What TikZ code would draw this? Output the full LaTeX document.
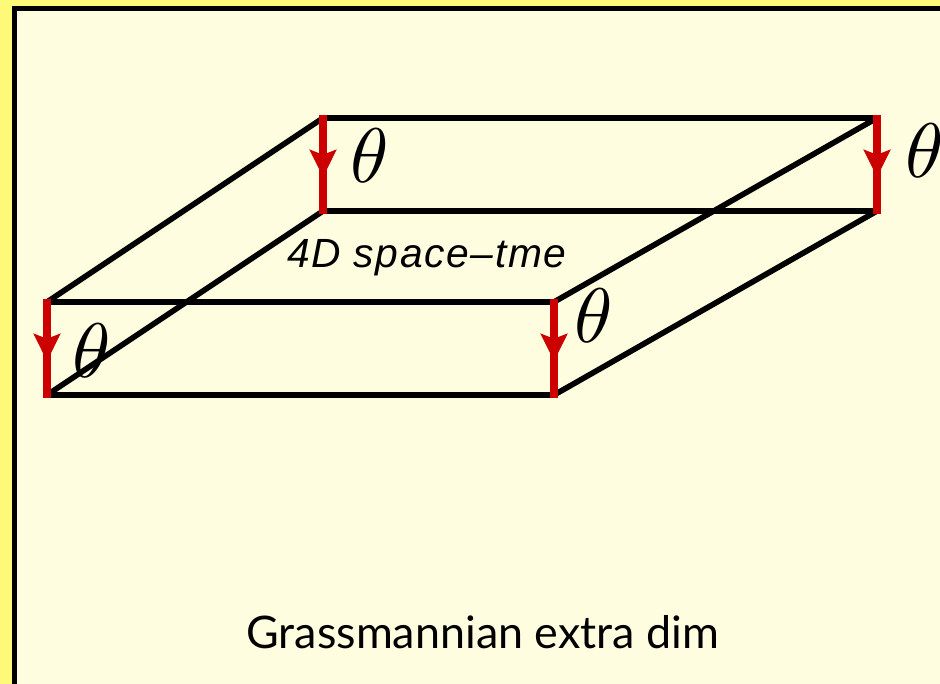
\documentclass[tikz,border=0pt]{standalone}
\usepackage{fontspec}
\setsansfont{Lato}
\newfontfamily\labelfont[LetterSpace=4]{Liberation Sans}
\usetikzlibrary{arrows.meta,decorations.markings}
\definecolor{outeryellow}{HTML}{FFF97A}
\definecolor{innercream}{HTML}{FFFDE0}
\definecolor{thetared}{HTML}{CC0000}
\begin{document}
\begin{tikzpicture}[x=1cm,y=1cm]
    \tikzset{
        edge/.style={draw=black,line width=4pt,line cap=butt},
        fibre/.style={
            draw=thetared,line width=6.2pt,
            postaction={decorate},
            decoration={markings,mark=at position 0.63 with
                {\arrow[thetared]{Stealth[length=0.68cm,width=0.66cm,inset=0.12cm]}}}
        },
        thetalabel/.style={scale=5.5,inner sep=0pt}
    }

    \useasboundingbox (0,0) rectangle (23.5,17.1);
    \fill[outeryellow] (0,0) rectangle (23.5,17.1);
    \node[draw=black,fill=innercream,line width=3.6pt,anchor=south west,outer sep=0pt,
        minimum width=24cm,minimum height=17.49cm,inner sep=0pt] (frame) at (0.3625,-0.6) {};

    \coordinate (back-top-l) at (8.075,14.15);
    \coordinate (back-top-r) at (21.925,14.15);
    \coordinate (back-bot-l) at (8.075,11.825);
    \coordinate (back-bot-r) at (21.925,11.825);
    \coordinate (front-top-l) at (1.175,9.55);
    \coordinate (front-top-r) at (13.85,9.55);
    \coordinate (front-bot-l) at (1.175,7.225);
    \coordinate (front-bot-r) at (13.85,7.225);

    \draw[edge] (front-top-l) -- (back-top-l) -- (back-top-r);
    \draw[edge] (front-top-l) -- (front-top-r) -- (back-top-r);
    \draw[edge] (front-bot-l) -- (back-bot-l) -- (back-bot-r);
    \draw[edge] (front-bot-l) -- (front-bot-r) -- (back-bot-r);

    \draw[fibre] ([yshift=0.08cm]back-top-l) -- ([yshift=-0.07cm]back-bot-l);
    \draw[fibre] ([yshift=0.08cm]back-top-r) -- ([yshift=-0.07cm]back-bot-r);
    \draw[fibre] ([yshift=0.08cm]front-top-l) -- ([yshift=-0.07cm]front-bot-l);
    \draw[fibre] ([yshift=0.08cm]front-top-r) -- ([yshift=-0.07cm]front-bot-r);

    \node[thetalabel] (theta-a) at (9.25,13.22) {$\theta$};
    \node[thetalabel] (theta-b) at (23.12,13.34) {$\theta$};
    \node[thetalabel] (theta-c) at (14.84,9.21) {$\theta$};
    \node[thetalabel] (theta-d) at (2.3,8.34) {$\theta$};

    \node[font=\labelfont\itshape\fontsize{29}{34}\selectfont,inner sep=0pt] (brane) at (10.67,10.65) {4D space–tme};
    \node[font=\sffamily\fontsize{31.9}{38}\selectfont,inner sep=0pt] (caption) at (12.07,1.3) {Grassmannian extra dim};
\end{tikzpicture}
\end{document}
